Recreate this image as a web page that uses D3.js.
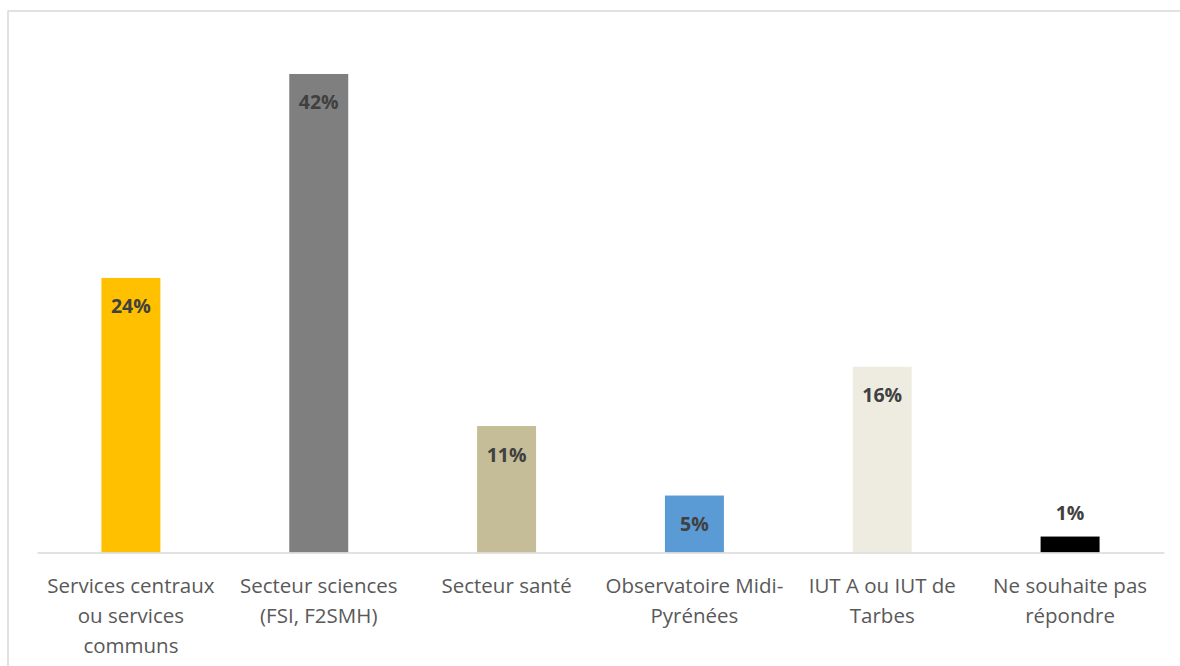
<!DOCTYPE html>
<html>
<head>
<meta charset="utf-8">
<script src="https://cdn.jsdelivr.net/npm/d3@7/dist/d3.min.js"></script>
<style>
  html, body { margin: 0; padding: 0; background: #fff; }
  svg { display: block; }
</style>
</head>
<body>
<svg id="chart" width="1180" height="666"></svg>
<script>
// Data
const categories = [
  "Services centraux\nou services\ncommuns",
  "Secteur sciences\n(FSI, F2SMH)",
  "Secteur santé",
  "Observatoire Midi-\nPyrénées",
  "IUT A ou IUT de\nTarbes",
  "Ne souhaite pas\nrépondre"
];
const values = [24.1, 42, 11.1, 5.0, 16.3, 1.4];
const valueLabels = ["24%", "42%", "11%", "5%", "16%", "1%"];
const colors = ["#FFC000", "#7F7F7F", "#C4BD97", "#5B9BD5", "#EEECE1", "#000000"];

const svg = d3.select("#chart");
const font = "'Open Sans', 'Noto Sans', sans-serif";

// frame
svg.append("rect")
  .attr("x", 8).attr("y", 11)
  .attr("width", 1200).attr("height", 700)
  .attr("fill", "#fff")
  .attr("stroke", "#d9d9d9").attr("stroke-width", 1.5);

const x = d3.scaleBand()
  .domain(d3.range(categories.length))
  .range([37, 1164])
  .paddingInner(0.686)
  .paddingOuter(0.343);

const y = d3.scaleLinear().domain([0, 45]).range([552.5, 39.8]);

// bars
svg.selectAll("rect.bar")
  .data(values)
  .join("rect")
  .attr("class", "bar")
  .attr("x", (d, i) => x(i))
  .attr("y", d => y(d))
  .attr("width", x.bandwidth())
  .attr("height", d => y(0) - y(d))
  .attr("fill", (d, i) => colors[i]);

// axis baseline
const axis = d3.axisBottom(x).tickSize(0).tickFormat("");
const gAxis = svg.append("g").attr("transform", `translate(0,${y(0)})`).call(axis);
gAxis.select(".domain").attr("stroke", "#d9d9d9").attr("stroke-width", 1.3);

// value labels
svg.selectAll("text.val")
  .data(values)
  .join("text")
  .attr("class", "val")
  .attr("x", (d, i) => x(i) + x.bandwidth() / 2)
  .attr("y", (d, i) => (y(0) - y(d) > 40) ? y(d) + 28 : y(d) - 24)
  .attr("text-anchor", "middle")
  .attr("dominant-baseline", "central")
  .attr("font-family", font)
  .attr("font-weight", "bold")
  .attr("font-size", 19.5)
  .attr("fill", "#404040")
  .text((d, i) => valueLabels[i]);

// category labels
const cat = svg.selectAll("text.cat")
  .data(categories)
  .join("text")
  .attr("class", "cat")
  .attr("text-anchor", "middle")
  .attr("font-family", font)
  .attr("font-size", 20.5)
  .attr("fill", "#595959");
cat.each(function(d, i) {
  const t = d3.select(this);
  d.split("\n").forEach((line, k) => {
    t.append("tspan")
      .attr("x", x(i) + x.bandwidth() / 2)
      .attr("y", 585 + k * 30)
      .attr("dominant-baseline", "central")
      .text(line);
  });
});
</script>
</body>
</html>
